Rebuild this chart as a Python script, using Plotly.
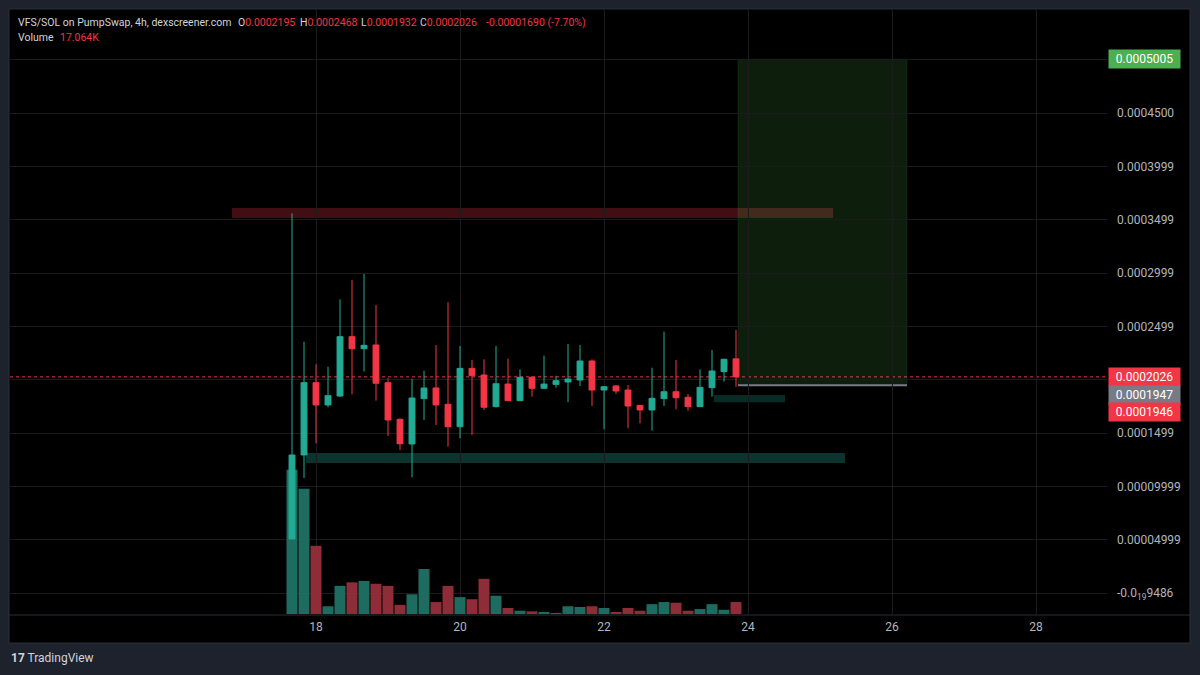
import pandas as pd
import plotly.graph_objects as go

# ---------------- data ----------------
times = pd.date_range("2025-05-17 16:00", periods=38, freq="4h")

open_ = [0.0000506, 0.0001294, 0.0001972, 0.0001763, 0.0001847, 0.0002403, 0.0002290, 0.0002325,
         0.0001972, 0.0001628, 0.0001397, 0.0001822, 0.0001922, 0.0001769, 0.0001559, 0.0002106,
         0.0002044, 0.0001747, 0.0001959, 0.0001803, 0.0002022, 0.0001919, 0.0001956, 0.0001978,
         0.0001997, 0.0002175, 0.0001903, 0.0001941, 0.0001903, 0.0001759, 0.0001716, 0.0001822,
         0.0001887, 0.0001835, 0.0001747, 0.0001925, 0.0002075, 0.0002195]
high = [0.0003560, 0.0002356, 0.0002144, 0.0002122, 0.0002753, 0.0002934, 0.0002991, 0.0002700,
        0.0002013, 0.0001638, 0.0002009, 0.0002084, 0.0002325, 0.0002725, 0.0002316, 0.0002184,
        0.0002191, 0.0002316, 0.0002197, 0.0002097, 0.0002034, 0.0002225, 0.0002037, 0.0002334,
        0.0002325, 0.0002191, 0.0001940, 0.0001950, 0.0001950, 0.0001760, 0.0002112, 0.0002450,
        0.0002184, 0.0001866, 0.0002097, 0.0002278, 0.0002195, 0.0002468]
low = [0.0000506, 0.0001078, 0.0001403, 0.0001741, 0.0001840, 0.0001863, 0.0002075, 0.0001803,
       0.0001472, 0.0001341, 0.0001085, 0.0001622, 0.0001575, 0.0001372, 0.0001450, 0.0001481,
       0.0001716, 0.0001740, 0.0001800, 0.0001800, 0.0001840, 0.0001915, 0.0001925, 0.0001788,
       0.0001941, 0.0001753, 0.0001535, 0.0001866, 0.0001544, 0.0001591, 0.0001522, 0.0001753,
       0.0001722, 0.0001709, 0.0001745, 0.0001840, 0.0001981, 0.0001932]
close = [0.0001294, 0.0001972, 0.0001763, 0.0001850, 0.0002403, 0.0002290, 0.0002322, 0.0001966,
         0.0001622, 0.0001399, 0.0001828, 0.0001922, 0.0001763, 0.0001559, 0.0002106, 0.0002037,
         0.0001741, 0.0001962, 0.0001803, 0.0002022, 0.0001919, 0.0001959, 0.0001990, 0.0002006,
         0.0002175, 0.0001903, 0.0001934, 0.0001894, 0.0001753, 0.0001716, 0.0001825, 0.0001887,
         0.0001831, 0.0001747, 0.0001928, 0.0002081, 0.0002191, 0.0002026]
volume_k = [205, 178, 97, 11, 40, 45, 47, 43, 40, 13, 28, 64, 17, 40, 24, 21, 50, 26, 8.5, 4.7,
            3.8, 2.4, 1.4, 11, 10, 11, 8.5, 2.4, 8.5, 4.7, 14, 17, 16, 4.7, 7, 14, 6, 17.064]

# drawings on the chart (start, end, low price, high price)
resistance_zone = ("2025-05-16 20:00", "2025-05-25 04:20", 0.0003516, 0.0003610)
support_zone = ("2025-05-17 20:40", "2025-05-25 08:20", 0.0001219, 0.0001313)
small_zone = ("2025-05-23 12:40", "2025-05-24 12:20", 0.0001788, 0.0001856)
target_box = ("2025-05-23 20:40", "2025-05-26 05:00", 0.0001947, 0.0005005)
last_price = 0.0002026
entry_price = 0.0001947
other_price = 0.0001946

price_ticks = [0, 0.00005, 0.0001, 0.00015, 0.0002, 0.00025, 0.0003, 0.00035, 0.0004, 0.00045, 0.0005]
price_labels = ["-0.0<sub>19</sub>9486", "0.00004999", "0.00009999", "0.0001499", "", "0.0002499",
                "0.0002999", "0.0003499", "0.0003999", "0.0004500", ""]
day_ticks = ["2025-05-18", "2025-05-20", "2025-05-22", "2025-05-24", "2025-05-26", "2025-05-28"]
day_labels = ["18", "20", "22", "24", "26", "28"]

# ---------------- style ----------------
UP = "#22ab94"
DOWN = "#f23645"
VOL_UP = "#1e6c5f"
VOL_DOWN = "#8e2c38"
GRID = "#1b1b1e"
AXIS_TXT = "#b2b5be"
FONT = "Roboto"
W, H = 1200, 675
PX0, PX1 = 10, 1107       # plot area in pixels (x)
PY0, PY1 = 10, 614        # plot area in pixels (y, top/bottom)


def px(x):
    return x / W


def py(y):
    return 1 - y / H


vol_colors = [VOL_UP if c >= o else VOL_DOWN for o, c in zip(open_, close)]

fig = go.Figure()
fig.add_trace(go.Bar(x=times, y=volume_k, marker=dict(color=vol_colors, line=dict(width=0)),
                     width=11 / 12 * 4 * 3600 * 1000, xaxis="x", yaxis="y",
                     showlegend=False, hoverinfo="skip"))
fig.add_trace(go.Candlestick(x=times, open=open_, high=high, low=low, close=close,
                             increasing=dict(fillcolor=UP, line=dict(color=UP, width=1)),
                             decreasing=dict(fillcolor=DOWN, line=dict(color=DOWN, width=1)),
                             whiskerwidth=0, xaxis="x", yaxis="y2",
                             showlegend=False, hoverinfo="skip"))

shapes = []
# panel
shapes.append(dict(type="rect", xref="paper", yref="paper", x0=px(9), x1=px(1190), y0=py(643), y1=py(9),
                   fillcolor="#000000", line=dict(color="#2a2e39", width=1), layer="below"))
# separator between plot and time axis
shapes.append(dict(type="line", xref="paper", yref="paper", x0=px(9), x1=px(1190), y0=py(615), y1=py(615),
                   line=dict(color="#2a2e39", width=1), layer="above"))
# zones
shapes.append(dict(type="rect", xref="x", yref="y2", x0=resistance_zone[0], x1=resistance_zone[1],
                   y0=resistance_zone[2], y1=resistance_zone[3], fillcolor="rgba(242,54,69,0.27)",
                   line=dict(width=0), layer="below"))
shapes.append(dict(type="rect", xref="x", yref="y2", x0=support_zone[0], x1=support_zone[1],
                   y0=support_zone[2], y1=support_zone[3], fillcolor="rgba(34,171,148,0.3)",
                   line=dict(width=0), layer="below"))
shapes.append(dict(type="rect", xref="x", yref="y2", x0=small_zone[0], x1=small_zone[1],
                   y0=small_zone[2], y1=small_zone[3], fillcolor="rgba(34,171,148,0.25)",
                   line=dict(width=0), layer="below"))
shapes.append(dict(type="rect", xref="x", yref="y2", x0=target_box[0], x1=target_box[1],
                   y0=target_box[2], y1=target_box[3], fillcolor="rgba(76,175,80,0.17)",
                   line=dict(color="rgba(76,175,80,0.12)", width=1), layer="below"))
shapes.append(dict(type="line", xref="x", yref="y2", x0=target_box[0], x1=target_box[1],
                   y0=entry_price, y1=entry_price, line=dict(color="#787b86", width=2), layer="below"))
# last price line
shapes.append(dict(type="line", xref="paper", yref="y2", x0=px(PX0), x1=px(PX1),
                   y0=last_price, y1=last_price, line=dict(color=DOWN, width=1, dash="dot"), layer="below"))

ann = []


def price_tag(val, text, color, shift):
    ann.append(dict(xref="paper", yref="y2", x=px(1108), y=val, xanchor="left", yanchor="middle",
                    yshift=shift, text=text, showarrow=False, bgcolor=color, width=67, height=14,
                    borderpad=2, align="center", font=dict(family=FONT, size=12, color="#ffffff")))


price_tag(target_box[3], "0.0005005", "#4caf50", 0)
price_tag(last_price, "0.0002026", DOWN, 0)
price_tag(entry_price, "0.0001947", "#787b86", -10)
price_tag(other_price, "0.0001946", DOWN, -27)

HS = 10.5
hdr = dict(xref="paper", yref="paper", xanchor="left", yanchor="middle", showarrow=False,
           font=dict(family=FONT, size=HS, color="#d1d4dc"))
red = lambda s: f"<span style='color:{DOWN}'>{s}</span>"
ann.append(dict(hdr, x=px(16), y=py(22), text="VFS/SOL on PumpSwap, 4h, dexscreener.com"))
ann.append(dict(hdr, x=px(236), y=py(22), text="O" + red(f"{open_[-1]:.7f}")))
ann.append(dict(hdr, x=px(298), y=py(22), text="H" + red(f"{high[-1]:.7f}")))
ann.append(dict(hdr, x=px(359), y=py(22), text="L" + red(f"{low[-1]:.7f}")))
ann.append(dict(hdr, x=px(418), y=py(22), text="C" + red(f"{close[-1]:.7f}")))
chg = close[-1] - open_[-1]
ann.append(dict(hdr, x=px(484), y=py(22), text=red(f"{chg:.8f} ({chg / open_[-1] * 100:.2f}%)")))
ann.append(dict(hdr, x=px(16), y=py(37), text="Volume"))
ann.append(dict(hdr, x=px(58), y=py(37), text=red(f"{volume_k[-1]:.3f}K")))
# footer
ann.append(dict(xref="paper", yref="paper", x=px(9), y=py(658), xanchor="left", yanchor="middle",
                showarrow=False, text="<b>17</b> TradingView",
                font=dict(family=FONT, size=12, color="#d1d4dc")))

x_start = "2025-05-13 18:00"
x_end = "2025-05-28 23:40"
price_min = -(PY1 - 593) * 9.375e-7
price_max = (593 - PY0) * 9.375e-7
vol_max = (PY1 - PY0) * 17.064 / 12

fig.update_layout(
    width=W, height=H, margin=dict(l=0, r=0, t=0, b=0, autoexpand=False),
    paper_bgcolor="#1e222d", plot_bgcolor="#000000",
    showlegend=False, shapes=shapes, annotations=ann,
    font=dict(family=FONT, size=12, color=AXIS_TXT),
    xaxis=dict(type="date", domain=[px(PX0), px(PX1)], range=[x_start, x_end],
               tickvals=day_ticks, ticktext=day_labels, showgrid=True, gridcolor=GRID, gridwidth=1,
               zeroline=False, showline=False, ticks="", tickfont=dict(color=AXIS_TXT, size=12),
               ticklabelstandoff=4, automargin=False,
               rangeslider=dict(visible=False), anchor="y", fixedrange=True),
    yaxis=dict(domain=[py(PY1), py(PY0)], range=[0, vol_max], visible=False, fixedrange=True,
               automargin=False),
    yaxis2=dict(overlaying="y", side="right", anchor="x", range=[price_min, price_max],
                tickvals=price_ticks, ticktext=price_labels, showgrid=True, gridcolor=GRID,
                gridwidth=1, zeroline=False, showline=False, ticks="", ticklabelstandoff=9,
                automargin=False, tickfont=dict(color=AXIS_TXT, size=12), fixedrange=True),
)

fig.write_html("out.html", config={"displayModeBar": False},
               post_script="document.body.style.margin='0';document.body.style.background='#1e222d';")
